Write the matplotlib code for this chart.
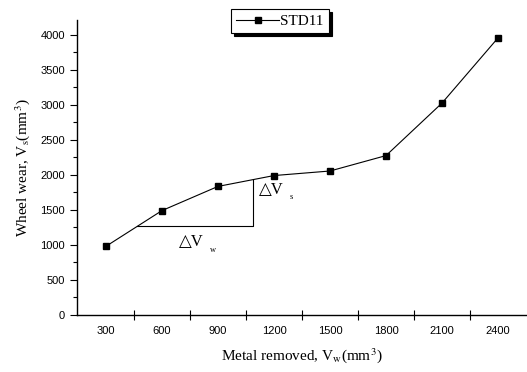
import numpy as np
import matplotlib
matplotlib.use("Agg")
import matplotlib.pyplot as plt

plt.rcParams['mathtext.fontset'] = 'stix'

# metal removed (mm^3) vs wheel wear (mm^3)
metal_removed = [300, 600, 900, 1200, 1500, 1800, 2100, 2400]
wheel_wear = [980, 1490, 1835, 1990, 2055, 2275, 3025, 3955]
series_name = "STD11"

# slope triangle drawn under the 600-1200 segment
tri_x = [466, 1087, 1087]
tri_y = [1274, 1274, 1931]

sans = ['Liberation Sans', 'DejaVu Sans']
serif = ['Liberation Serif', 'DejaVu Sans']

fig = plt.figure(figsize=(5.27, 3.72), dpi=100)
ax = fig.add_axes([77 / 527, 57 / 372, 450 / 527, 295 / 372])

ax.plot(metal_removed, wheel_wear, color='black', lw=0.8, marker='s',
        markersize=5, label=series_name)
ax.plot(tri_x, tri_y, color='black', lw=0.8)

ax.text(1120, 1730, "△V", family=serif, fontsize=12)
ax.text(1285, 1660, "s", family=serif, fontsize=6)
ax.text(690, 990, "△V", family=serif, fontsize=12)
ax.text(855, 900, "w", family=serif, fontsize=6)

ax.set_xlim(145, 2555)
ax.set_ylim(0, 4210)

ax.set_xticks(metal_removed)
ax.set_xticks(np.arange(450, 2400, 300), minor=True)
ax.tick_params(axis='x', which='major', length=0, pad=8)
ax.tick_params(axis='x', which='minor', direction='inout', length=7, width=0.8)
ax.set_yticks(np.arange(0, 4001, 500))
ax.set_yticks(np.arange(250, 4200, 500), minor=True)
ax.tick_params(axis='y', which='major', direction='out', length=5, width=0.8)
ax.tick_params(axis='y', which='minor', direction='out', length=3, width=0.8)
for lbl in ax.get_xticklabels() + ax.get_yticklabels():
    lbl.set_family(sans)
    lbl.set_fontsize(8)

for side in ['top', 'right']:
    ax.spines[side].set_visible(False)
for side in ['left', 'bottom']:
    ax.spines[side].set_linewidth(1.0)

ax.set_xlabel("Metal removed, V$_\\mathrm{w}$(mm$^3$)", family=serif,
              fontsize=11, labelpad=7)
ax.set_ylabel("Wheel wear, V$_\\mathrm{s}$(mm$^3$)", family=serif,
              fontsize=11, labelpad=6)

leg = ax.legend(loc='center', bbox_to_anchor=(280 / 527, 1 - 21 / 372),
                bbox_transform=fig.transFigure, frameon=True, fancybox=False,
                shadow={'color': 'black', 'alpha': 1}, edgecolor='black',
                handlelength=2.8, handletextpad=0.1, borderpad=0.35,
                prop={'family': serif, 'size': 11})
leg.get_frame().set_linewidth(0.8)
leg.legend_handles[0].set_markersize(4)

fig.savefig("out.png", dpi=100)
